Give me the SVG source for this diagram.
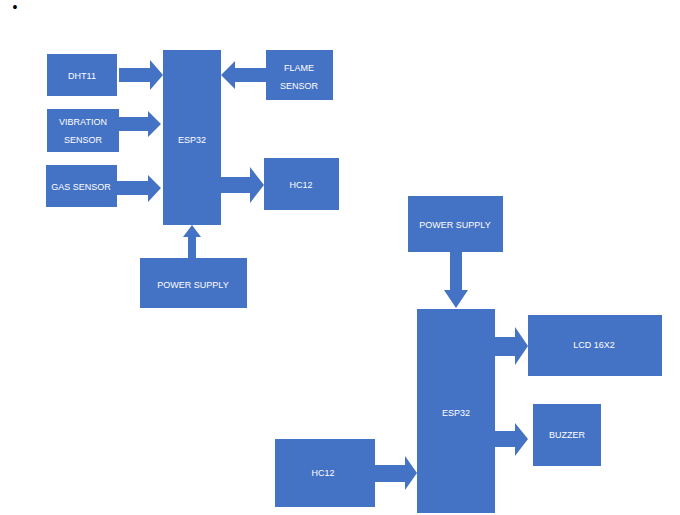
<svg xmlns="http://www.w3.org/2000/svg" width="680" height="515" viewBox="0 0 680 515">
<style>
.b{fill:#4472C4}
.a{fill:#4472C4}
.t{fill:#ffffff;font-family:"Liberation Sans Narrow","Liberation Sans",Arial,sans-serif;font-size:9px;text-anchor:middle;dominant-baseline:central}
</style>
<rect width="680" height="515" fill="#ffffff"/>
<text x="15" y="7" font-family="Liberation Sans, sans-serif" font-size="14" fill="#000" text-anchor="middle" dominant-baseline="central">•</text>
<g id="connectors">
<polygon class="a" points="119,68 150,68 150,60 163,75 150,90 150,82 119,82"/>
<polygon class="a" points="119,117 148,117 148,111 161,124 148,137 148,131 119,131"/>
<polygon class="a" points="117,181 148,181 148,175 161,188 148,202 148,195 117,195"/>
<polygon class="a" points="266,68 235,68 235,61 221,75 235,89 235,82 266,82"/>
<polygon class="a" points="221,177 250,177 250,167 264,185 250,203 250,193 221,193"/>
<polygon class="a" points="188,258 188,237 183,237 192,225 201,237 196,237 196,258"/>
<polygon class="a" points="450,252 462,252 462,290 468,290 456,308 444,290 450,290"/>
<polygon class="a" points="495,337 515,337 515,327 528,346 515,365 515,356 495,356"/>
<polygon class="a" points="495,431 515,431 515,423 528,439 515,456 515,447 495,447"/>
<polygon class="a" points="375,465 405,465 405,456 417,473 405,490 405,482 375,482"/>
</g>
<g id="dht11"><rect class="b" x="47" y="54" width="70" height="42"/><text class="t" x="82" y="76">DHT11</text></g>
<g id="vibration"><rect class="b" x="47" y="109" width="72" height="43"/><text class="t" x="83" y="122">VIBRATION</text><text class="t" x="83" y="140">SENSOR</text></g>
<g id="gas"><rect class="b" x="46" y="165" width="71" height="42"/><text class="t" x="81" y="187">GAS SENSOR</text></g>
<g id="esp32a"><rect class="b" x="163" y="50" width="58" height="175"/><text class="t" x="192" y="140">ESP32</text></g>
<g id="flame"><rect class="b" x="266" y="50" width="67" height="50"/><text class="t" x="299" y="68">FLAME</text><text class="t" x="299" y="86">SENSOR</text></g>
<g id="hc12a"><rect class="b" x="264" y="158" width="75" height="52"/><text class="t" x="301" y="185">HC12</text></g>
<g id="powera"><rect class="b" x="140" y="258" width="107" height="50"/><text class="t" x="193" y="285">POWER SUPPLY</text></g>
<g id="powerb"><rect class="b" x="408" y="196" width="95" height="56"/><text class="t" x="455" y="225">POWER SUPPLY</text></g>
<g id="esp32b"><rect class="b" x="417" y="309" width="78" height="204"/><text class="t" x="456" y="413">ESP32</text></g>
<g id="lcd"><rect class="b" x="528" y="315" width="134" height="61"/><text class="t" x="594" y="345">LCD 16X2</text></g>
<g id="buzzer"><rect class="b" x="533" y="404" width="68" height="62"/><text class="t" x="567" y="435">BUZZER</text></g>
<g id="hc12b"><rect class="b" x="275" y="439" width="100" height="68"/><text class="t" x="323" y="473">HC12</text></g>
</svg>
